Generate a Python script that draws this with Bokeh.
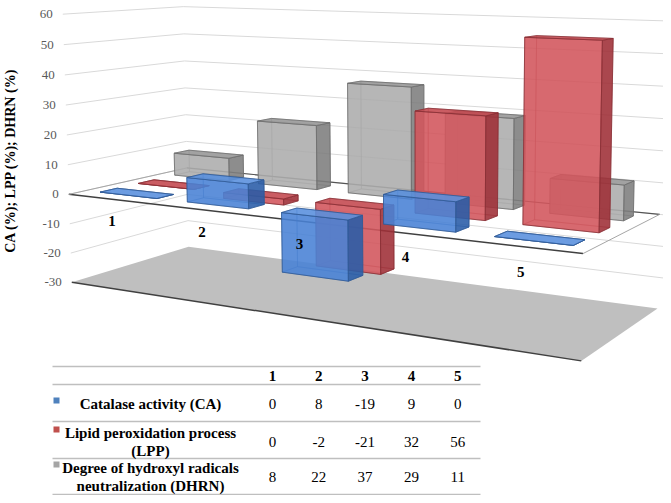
import numpy as np
from bokeh.plotting import figure
from bokeh.models import Range1d, ColumnDataSource
from bokeh.embed import file_html
from bokeh.resources import INLINE
from bokeh.core.properties import value

# ---------------- data ----------------
categories = ["1", "2", "3", "4", "5"]
ca = [0, 8, -19, 9, 0]
lpp = [0, -2, -21, 32, 56]
dhrn = [8, 22, 37, 29, 11]
series_labels = [["Catalase activity (CA)"],
                 ["Lipid peroxidation process", "(LPP)"],
                 ["Degree of hydroxyl radicals", "neutralization (DHRN)"]]
y_ticks = [-30, -20, -10, 0, 10, 20, 30, 40, 50, 60]
axis_title = "CA (%); LPP (%); DHRN (%)"

# ---------------- styles / layout ----------------
SERIF = value("Liberation Serif")
FRONT = ["#4982d5", "#d1555c", "#acacac"]
SIDE = ["#295ca7", "#9e2f37", "#7d7d7d"]
TOP = ["#5990dd", "#c3484e", "#959595"]
EDGE = ["#2f5a96", "#8a3036", "#6e6e6e"]
LEGEND = ["#4f81bd", "#c0504d", "#a5a5a5"]
Y_MIN, Y_MAX = -30, 60
ROW_Z = [0.2, 0.51, 0.83]   # depth rows (front -> back)
HW = 0.066                  # half bar width
HD = 0.068                  # half bar depth

# perspective calibration of the plot box (world X 0..1, value, depth 0..1 -> page px)
CAL_WORLD = [(0, 0, 0), (0, 0, 1), (1, 0, 0), (1, 0, 1),
             (0, -30, 0), (0, -30, 1), (1, -30, 0), (1, -30, 1),
             (0, 60, 0), (0, 60, 1), (1, 60, 1)]
CAL_PIX = [(68, 193), (187, 170), (583, 253), (660, 213),
           (72, 281), (187, 246), (580, 362), (657, 307),
           (62, 14), (183, 5), (663, 21)]


def fit_camera():
    A, b = [], []
    for (X, Y, Z), (u, v) in zip(CAL_WORLD, CAL_PIX):
        Ys = Y / 100.0
        A.append([X, Ys, Z, 1, 0, 0, 0, 0, -u * X, -u * Ys, -u * Z]); b.append(u)
        A.append([0, 0, 0, 0, X, Ys, Z, 1, -v * X, -v * Ys, -v * Z]); b.append(v)
    p = np.linalg.lstsq(np.array(A, float), np.array(b, float), rcond=None)[0]
    return np.append(p, 1.0).reshape(3, 4)


P = fit_camera()


def proj(X, Y, Z):
    X, Y, Z = np.broadcast_arrays(np.asarray(X, float), np.asarray(Y, float) / 100.0,
                                  np.asarray(Z, float))
    W = np.stack([X.ravel(), Y.ravel(), Z.ravel(), np.ones(X.size)])
    r = P @ W
    return list(r[0] / r[2]), list(r[1] / r[2])


W_PX, H_PX = 663, 495
p = figure(width=W_PX, height=H_PX, x_range=Range1d(0, W_PX), y_range=Range1d(H_PX, 0),
           x_axis_location=None, y_axis_location=None, toolbar_location=None,
           output_backend="svg", min_border=0)
p.min_border_left = p.min_border_right = p.min_border_top = p.min_border_bottom = 0
p.grid.visible = False
p.outline_line_color = None
p.background_fill_color = "white"

# gridlines on side wall and back wall
for t in y_ticks[1:]:
    xs, ys = proj([0, 0, 1.01], [t, t, t], [0, 1, 1])
    p.line(xs, ys, line_color="#d9d9d9", line_width=1)

# floor at the minimum
fx, fy = proj([0, 0, 1, 1], [Y_MIN] * 4, [0, 1, 1, 0])
p.patch(fx, fy, fill_color="#bfbfbf", line_color=None)
ex, ey = proj([0, 1], [Y_MIN, Y_MIN], [0, 0])
p.line(ex, ey, line_color="#404040", line_width=1.5)

# zero plane outline
zx, zy = proj([0, 1], [0, 0], [0, 0])
p.line(zx, zy, line_color="#404040", line_width=1.5)
zx, zy = proj([0, 1], [0, 0], [1, 1])
p.line(zx, zy, line_color="#555555", line_width=1.2)
zx, zy = proj([0, 0], [0, 0], [0, 1])
p.line(zx, zy, line_color="#a6a6a6", line_width=1)
zx, zy = proj([1, 1], [0, 0], [0, 1])
p.line(zx, zy, line_color="#a6a6a6", line_width=1)

# bars
series = [ca, lpp, dhrn]
n_cat = len(categories)
F = dict(xs=[], ys=[], fc=[], fa=[], lc=[], la=[])
HIDDEN = [[(0, 0, 1), (1, 0, 1), (1, 1, 1), (0, 1, 1)],
          [(0, 0, 0), (0, 0, 1), (0, 1, 1), (0, 1, 0)],
          [(0, 0, 0), (1, 0, 0), (1, 0, 1), (0, 0, 1)]]
VISIBLE = [([(0, 0, 0), (1, 0, 0), (1, 1, 0), (0, 1, 0)], FRONT),
           ([(1, 0, 0), (1, 0, 1), (1, 1, 1), (1, 1, 0)], SIDE),
           ([(0, 1, 0), (1, 1, 0), (1, 1, 1), (0, 1, 1)], TOP)]
for s in reversed(range(len(series))):
    for k in range(n_cat):
        val = series[s][k]
        xc = (k + 0.5) / n_cat
        xv = (xc - HW, xc + HW)
        yv = (min(0, val), max(0, val))
        zv = (ROW_Z[s] - HD, ROW_Z[s] + HD)

        def face(corners):
            return proj([xv[i] for i, j, l in corners], [yv[j] for i, j, l in corners],
                        [zv[l] for i, j, l in corners])
        for c in HIDDEN:
            u, v = face(c)
            F["xs"].append(u); F["ys"].append(v)
            F["fc"].append(FRONT[s]); F["fa"].append(0.08)
            F["lc"].append(EDGE[s]); F["la"].append(0.35)
        for c, pal in VISIBLE:
            u, v = face(c)
            F["xs"].append(u); F["ys"].append(v)
            F["fc"].append(pal[s]); F["fa"].append(0.88)
            F["lc"].append(EDGE[s]); F["la"].append(0.8)
p.patches("xs", "ys", source=ColumnDataSource(F), fill_color="fc", fill_alpha="fa",
          line_color="lc", line_alpha="la", line_width=1)

# value tick labels
tx, ty = proj([0] * len(y_ticks), y_ticks, [0] * len(y_ticks))
p.text([x - 10 for x in tx], ty, text=[str(t) for t in y_ticks], text_font=SERIF,
       text_font_size="13px", text_color="#595959", text_align="right",
       text_baseline="middle")

# category labels
cx, cy = proj([(k + 0.5) / n_cat for k in range(n_cat)], [-7.2] * n_cat, [0] * n_cat)
p.text(cx, cy, text=categories, text_font=SERIF, text_font_style="bold",
       text_font_size="15px", text_color="black", text_align="center",
       text_baseline="middle")

# axis title
p.text([10], [160], text=[axis_title], angle=np.pi / 2, text_font=SERIF,
       text_font_style="bold", text_font_size="14px", text_color="black",
       text_align="center", text_baseline="middle")

# ---------------- data table ----------------
TBL_X0, TBL_X1 = 52, 480
COL_X = [272 + 46.3 * k for k in range(n_cat)]
LINES_Y = [366, 384, 421, 458, 494]
ROW_Y = [403, 441, 476]
LABEL_Y = [[403], [432, 450], [467, 485]]
for ly in LINES_Y:
    p.line([TBL_X0, TBL_X1], [ly, ly], line_color="#bfbfbf", line_width=1.5)
p.text(COL_X, [375] * n_cat, text=categories, text_font=SERIF, text_font_style="bold",
       text_font_size="15px", text_color="black", text_align="center",
       text_baseline="middle")
for s in range(len(series)):
    p.text(COL_X, [ROW_Y[s]] * n_cat, text=[str(v) for v in series[s]], text_font=SERIF,
           text_font_size="15px", text_color="black", text_align="center",
           text_baseline="middle")
    p.text([150] * len(series_labels[s]), LABEL_Y[s], text=series_labels[s],
           text_font=SERIF, text_font_style="bold", text_font_size="15px",
           text_color="black", text_align="center", text_baseline="middle")
    p.scatter([56], [LABEL_Y[s][0] - 3], marker="square", size=6,
              fill_color=LEGEND[s], line_color=None)

open("out.html", "w").write(file_html(p, INLINE))
